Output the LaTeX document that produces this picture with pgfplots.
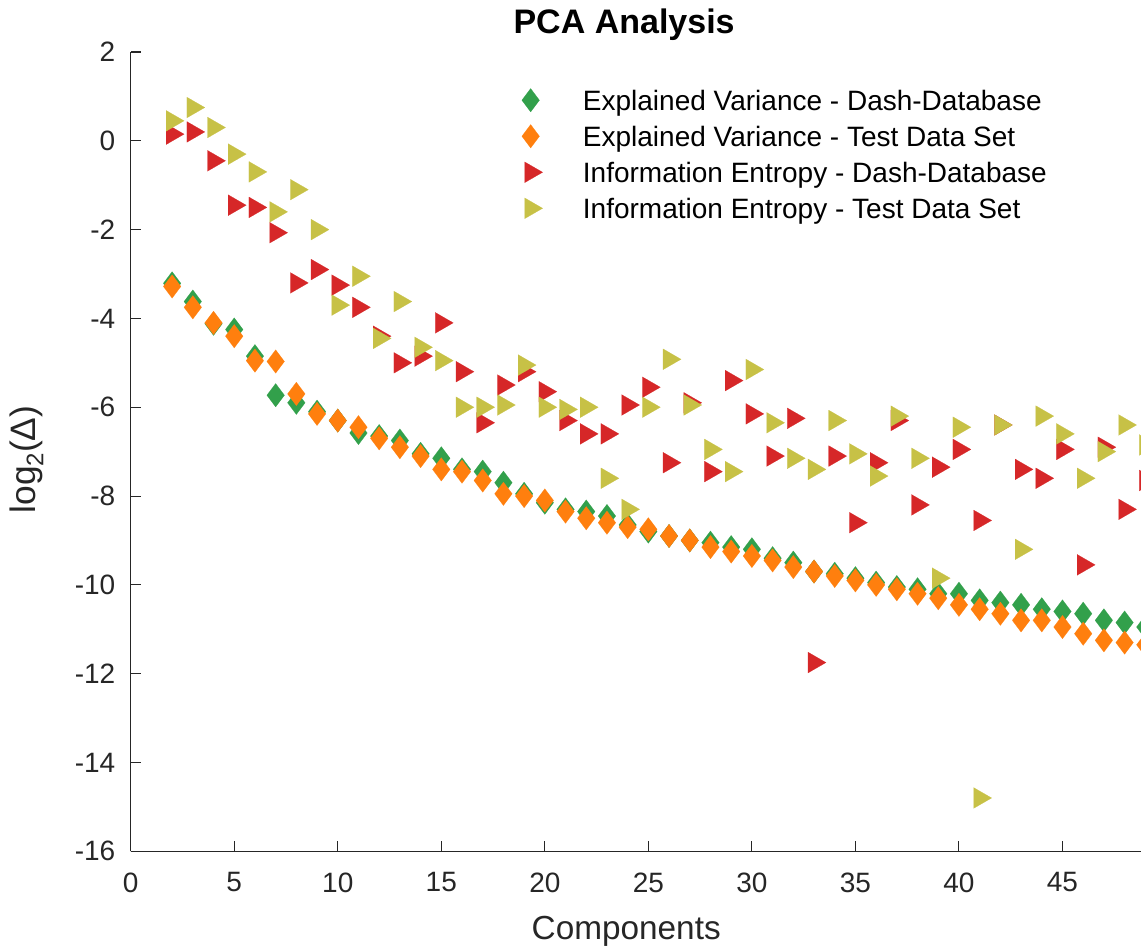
\documentclass[border=0pt]{standalone}
\usepackage{pgfplots}
\pgfplotsset{compat=1.18}
\usepackage{fontspec}
\setmainfont{Liberation Sans}
\definecolor{evdash}{RGB}{50,160,75}
\definecolor{evtest}{RGB}{255,127,14}
\definecolor{iedash}{RGB}{214,39,40}
\definecolor{ietest}{RGB}{199,193,70}
\definecolor{axgray}{RGB}{38,38,38}

% Explained variance, Dash-Database
\pgfplotstableread{
n y
2 -3.21
3 -3.62
4 -4.12
5 -4.25
6 -4.85
7 -5.73
8 -5.90
9 -6.10
10 -6.30
11 -6.58
12 -6.65
13 -6.75
14 -7.05
15 -7.15
16 -7.40
17 -7.45
18 -7.70
19 -7.95
20 -8.15
21 -8.30
22 -8.35
23 -8.45
24 -8.65
25 -8.80
26 -8.90
27 -9.00
28 -9.05
29 -9.15
30 -9.20
31 -9.40
32 -9.50
33 -9.70
34 -9.75
35 -9.85
36 -9.95
37 -10.05
38 -10.10
39 -10.20
40 -10.20
41 -10.35
42 -10.40
43 -10.45
44 -10.55
45 -10.60
46 -10.65
47 -10.80
48 -10.85
49 -10.95
}\evdash

% Explained variance, test data set
\pgfplotstableread{
n y
2 -3.28
3 -3.75
4 -4.10
5 -4.40
6 -4.95
7 -4.97
8 -5.70
9 -6.15
10 -6.30
11 -6.45
12 -6.70
13 -6.90
14 -7.10
15 -7.40
16 -7.45
17 -7.65
18 -7.95
19 -8.00
20 -8.10
21 -8.35
22 -8.50
23 -8.60
24 -8.70
25 -8.75
26 -8.90
27 -9.00
28 -9.15
29 -9.25
30 -9.35
31 -9.45
32 -9.60
33 -9.70
34 -9.80
35 -9.90
36 -10.00
37 -10.10
38 -10.20
39 -10.30
40 -10.45
41 -10.55
42 -10.65
43 -10.80
44 -10.80
45 -10.95
46 -11.10
47 -11.25
48 -11.30
49 -11.35
}\evtest

% Information entropy, Dash-Database
\pgfplotstableread{
n y
2 0.15
3 0.20
4 -0.45
5 -1.45
6 -1.50
7 -2.07
8 -3.20
9 -2.90
10 -3.25
11 -3.75
12 -4.40
13 -5.00
14 -4.85
15 -4.10
16 -5.20
17 -6.35
18 -5.50
19 -5.20
20 -5.65
21 -6.30
22 -6.60
23 -6.60
24 -5.95
25 -5.55
26 -7.25
27 -5.90
28 -7.45
29 -5.40
30 -6.15
31 -7.10
32 -6.25
33 -11.75
34 -7.10
35 -8.60
36 -7.25
37 -6.30
38 -8.20
39 -7.35
40 -6.95
41 -8.55
42 -6.40
43 -7.40
44 -7.60
45 -6.95
46 -9.55
47 -6.90
48 -8.30
49 -7.65
}\iedash

% Information entropy, test data set
\pgfplotstableread{
n y
2 0.45
3 0.75
4 0.30
5 -0.30
6 -0.70
7 -1.60
8 -1.10
9 -2.00
10 -3.70
11 -3.05
12 -4.45
13 -3.62
14 -4.65
15 -4.95
16 -6.00
17 -6.00
18 -5.95
19 -5.05
20 -6.00
21 -6.05
22 -6.00
23 -7.60
24 -8.30
25 -6.00
26 -4.92
27 -5.95
28 -6.95
29 -7.45
30 -5.15
31 -6.35
32 -7.15
33 -7.40
34 -6.30
35 -7.05
36 -7.55
37 -6.20
38 -7.15
39 -9.85
40 -6.45
41 -14.80
42 -6.40
43 -9.20
44 -6.20
45 -6.60
46 -7.60
47 -7.00
48 -6.40
49 -6.85
}\ietest

\begin{document}
\begin{tikzpicture}
\useasboundingbox (-98pt,-72pt) rectangle (757.5pt,638.25pt);
\begin{axis}[
    at={(0pt,0pt)}, anchor=south west,
    scale only axis,
    width=776.25pt, height=599.25pt,
    xmin=0, xmax=50,
    ymin=-16, ymax=2,
    xtick={0,5,...,45},
    ytick={-16,-14,...,2},
    axis x line*=bottom,
    axis y line*=left,
    axis line style={axgray, line width=0.8pt},
    tick align=inside,
    major tick length=8pt,
    tick style={axgray, line width=0.8pt},
    /pgf/number format/assume math mode=true,
    ticklabel style={font=\fontsize{21}{25}\selectfont, text=axgray},
    yticklabel style={xshift=-8pt},
    xticklabel style={yshift=-12.5pt},
    xlabel={Components},
    xlabel style={font=\fontsize{25}{30}\selectfont, text=axgray,
        at={(0.4786,0)}, anchor=base, yshift=-66pt},
    ylabel={log\raisebox{-0.4ex}{\fontsize{18}{20}\selectfont 2}(Δ)},
    ylabel style={font=\fontsize{26.5}{30}\selectfont, text=axgray,
        at={(-0.0915,0.49)}, anchor=base},
    title={PCA Analysis},
    title style={font=\fontsize{25.5}{30}\selectfont\bfseries,
        at={(0.4766,1)}, anchor=base, yshift=8pt},
    legend cell align=left,
    legend image code/.code={\path (0pt,-1pt) (48pt,1pt);
        \draw[#1] plot coordinates {(9pt,0pt)};},
    legend style={at={(0.3742,0.9625)}, anchor=north west, draw=none,
        fill=none, inner xsep=0pt, inner ysep=0pt,
        font=\fontsize{21}{25}\selectfont,
        nodes={inner sep=0pt, text height=21pt, text depth=6pt}},
]
\addplot[only marks, color=evdash, mark=diamond*, mark size=8.8pt,
    mark options={draw=evdash, fill=evdash, line width=0.1pt}] table[x=n, y=y] {\evdash};
\addlegendentry{Explained Variance - Dash-Database}
\addplot[only marks, color=evtest, mark=diamond*, mark size=8.8pt,
    mark options={draw=evtest, fill=evtest, line width=0.1pt}] table[x=n, y=y] {\evtest};
\addlegendentry{Explained Variance - Test Data Set}
\addplot[only marks, color=iedash, mark=triangle*, mark size=9pt,
    mark options={rotate=-90, draw=iedash, fill=iedash, line width=0.1pt}] table[x=n, y=y] {\iedash};
\addlegendentry{Information Entropy - Dash-Database}
\addplot[only marks, color=ietest, mark=triangle*, mark size=9pt,
    mark options={rotate=-90, draw=ietest, fill=ietest, line width=0.1pt}] table[x=n, y=y] {\ietest};
\addlegendentry{Information Entropy - Test Data Set}
\end{axis}
\end{tikzpicture}
\end{document}
